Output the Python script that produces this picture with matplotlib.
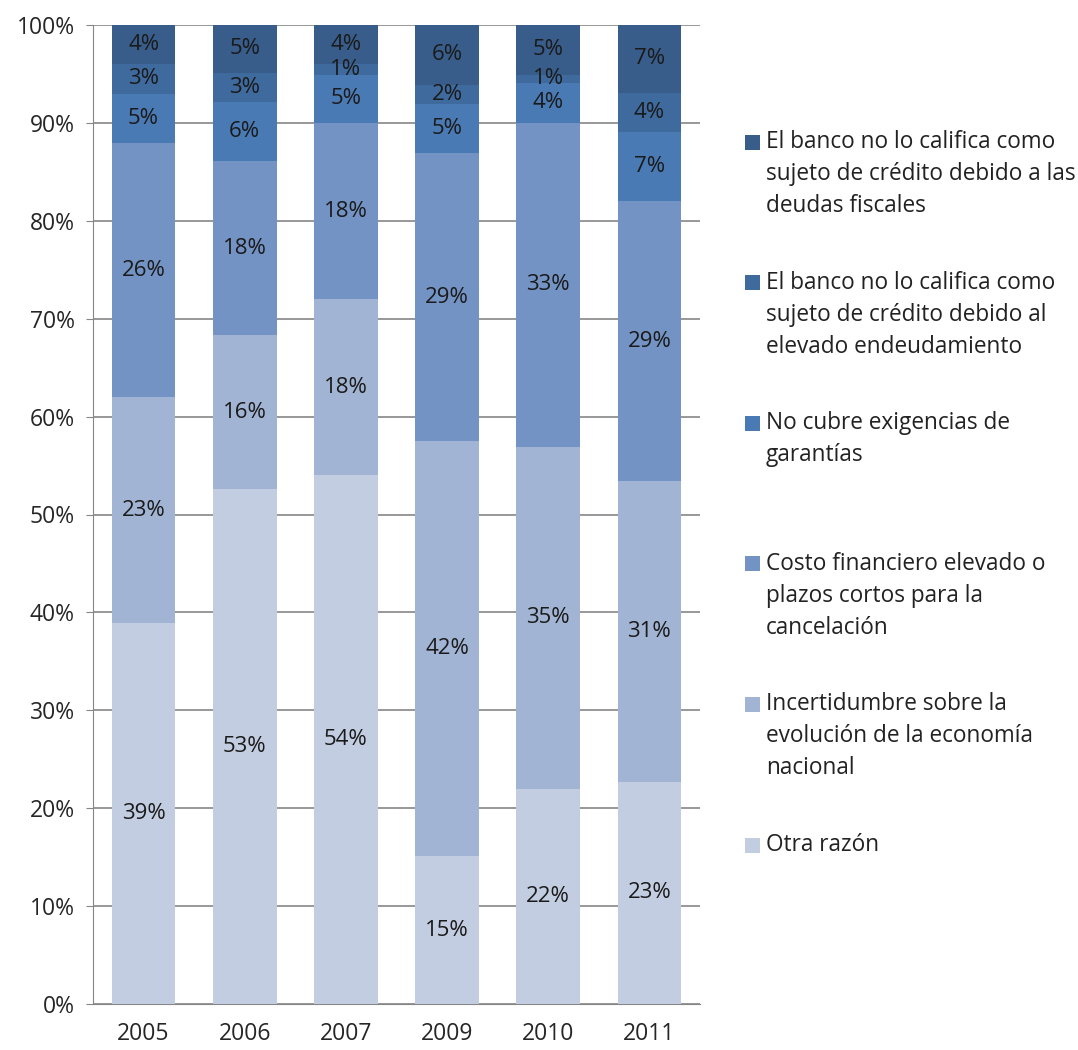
import matplotlib
matplotlib.use('Agg')
import matplotlib.pyplot as plt
from matplotlib.patches import Rectangle
import numpy as np

plt.rcParams['font.family'] = ['Open Sans', 'DejaVu Sans']

years = ['2005', '2006', '2007', '2009', '2010', '2011']

# stacked from bottom to top
otra = [38.9, 52.6, 54.0, 15.1, 22.0, 22.7]
incert = [23.1, 15.7, 18.0, 42.4, 34.9, 30.7]
costo = [25.9, 17.8, 18.0, 29.4, 33.1, 28.6]
garantias = [5.1, 6.0, 4.9, 5.0, 4.1, 7.1]
endeud = [3.0, 3.0, 1.1, 2.0, 0.8, 4.0]
fiscal = [4.0, 4.9, 4.0, 6.1, 5.1, 6.9]

labels = ['Otra razón',
          'Incertidumbre sobre la\nevolución de la economía\nnacional',
          'Costo financiero elevado o\nplazos cortos para la\ncancelación',
          'No cubre exigencias de\ngarantías',
          'El banco no lo califica como\nsujeto de crédito debido al\nelevado endeudamiento',
          'El banco no lo califica como\nsujeto de crédito debido a las\ndeudas fiscales']
colors = ['#C3CDE1', '#A1B4D4', '#7393C4', '#4A7AB4', '#3F6A9E', '#385D8A']
series = [otra, incert, costo, garantias, endeud, fiscal]

W, H = 1078, 1050
fig = plt.figure(figsize=(W / 100, H / 100), dpi=100)
ax = fig.add_axes([93 / W, 1 - 1004 / H, 607 / W, 979 / H])

x = np.arange(len(years))
bottom = np.zeros(len(years))
for vals, col, lab in zip(series, colors, labels):
    vals = np.array(vals)
    ax.bar(x, vals, 0.63, bottom=bottom, color=col, label=lab, zorder=3)
    for xi, v, bt in zip(x, vals, bottom):
        ax.text(xi, bt + v / 2, '%d%%' % round(v), ha='center', va='center',
                fontsize=16, color='#1a1a1a', zorder=4)
    bottom += vals

ax.set_xlim(-0.5, len(years) - 0.5)
ax.set_ylim(0, 100)
ax.set_yticks(np.arange(0, 101, 10))
ax.set_yticklabels(['%d%%' % t for t in range(0, 101, 10)])
ax.set_xticks(x)
ax.set_xticklabels(years)
ax.tick_params(axis='y', labelsize=16.5, length=5, color='#868686', pad=8, labelcolor='#262626')
ax.tick_params(axis='x', labelsize=16.5, length=0, pad=13, labelcolor='#262626')
ax.yaxis.grid(True, color='#868686', linewidth=1.2, zorder=0)
for s in ['top', 'right']:
    ax.spines[s].set_visible(False)
ax.spines['left'].set_color('#868686')
ax.spines['bottom'].set_color('#868686')

# legend: entries evenly spaced, marker next to first line
entry_y0, entry_step, line_h = 142, 140.6, 32
for i, (lab, col) in enumerate(zip(labels[::-1], colors[::-1])):
    y = entry_y0 + i * entry_step
    fig.patches.append(Rectangle((745 / W, 1 - (y + 7.5) / H), 15 / W, 15 / H,
                                 transform=fig.transFigure, facecolor=col,
                                 edgecolor='none'))
    for k, line in enumerate(lab.split('\n')):
        fig.text(766 / W, 1 - (y + k * line_h) / H, line, ha='left', va='center',
                 fontsize=16.3, color='#222222')

fig.savefig('out.png', dpi=100)
